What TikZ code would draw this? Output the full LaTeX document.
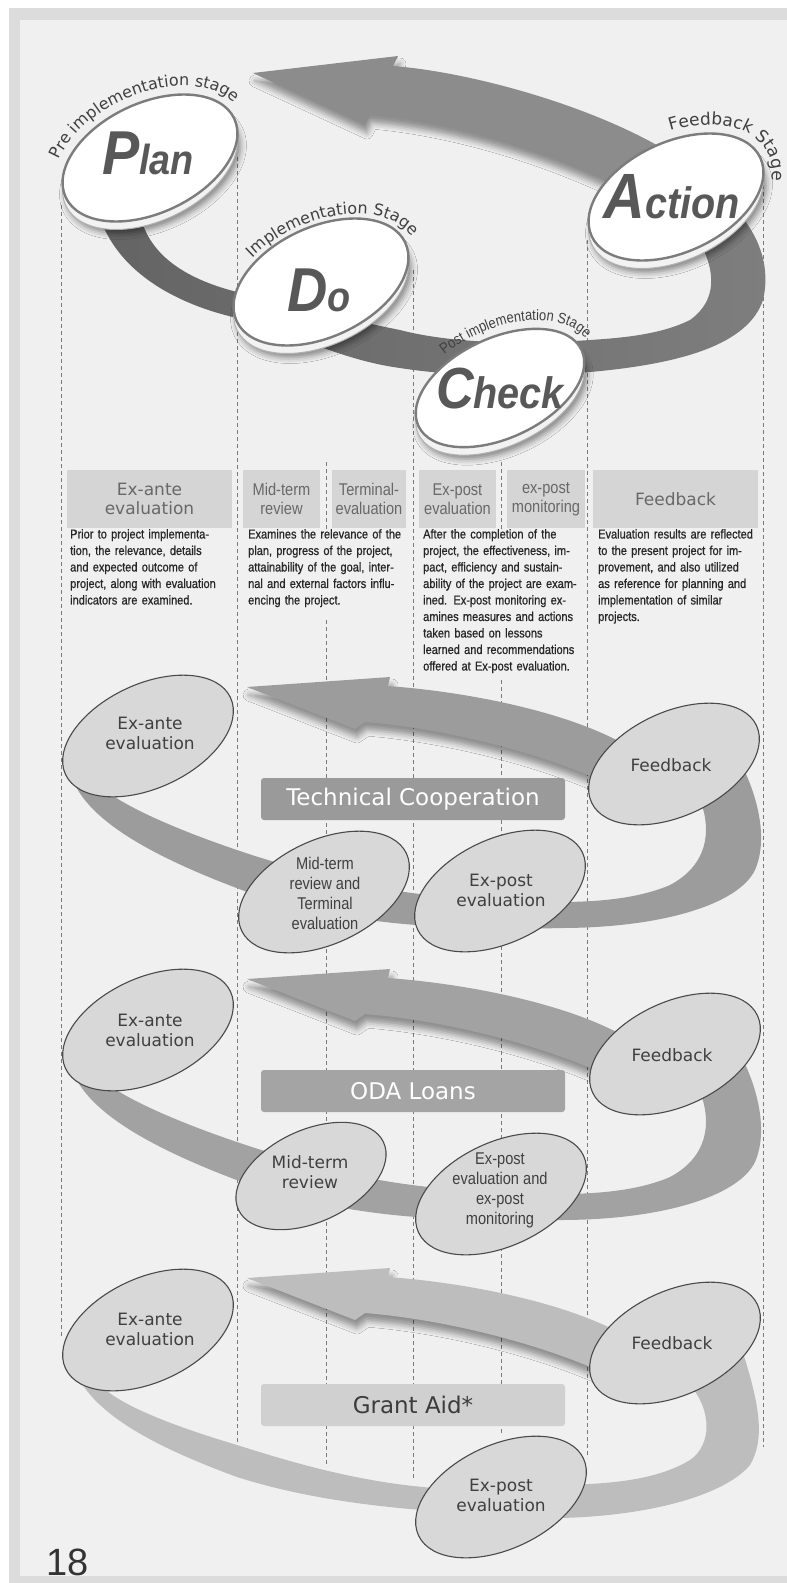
\documentclass[tikz,border=0pt]{standalone}
\usepackage{fontspec}
\setmainfont{Liberation Sans}
\newfontfamily\roundfont{DejaVu Sans}
\newfontfamily\narrowfont[FakeStretch=0.86]{Liberation Sans}
\newfontfamily\descfont[FakeStretch=0.86, FakeBold=0.7]{Liberation Sans}
\newfontfamily\pdcafont[FakeStretch=0.9]{Liberation Sans}
\usetikzlibrary{shapes.geometric,decorations.text,shadows.blur}

\definecolor{framegray}{HTML}{DCDCDC}
\definecolor{panelgray}{HTML}{F0F0F0}
\definecolor{guide}{HTML}{7A7A7A}
\definecolor{headfill}{HTML}{D5D5D5}
\definecolor{headtext}{HTML}{686868}
\definecolor{ringdark}{HTML}{646464}
\definecolor{ringlight}{HTML}{7E7E7E}
\definecolor{pdcaarrow}{HTML}{8C8C8C}
\definecolor{coinedge}{HTML}{7C7C7C}
\definecolor{lettergray}{HTML}{585858}
\definecolor{phasefill}{HTML}{D8D8D8}
\definecolor{phaseedge}{HTML}{4A4A4A}
\definecolor{phasetext}{HTML}{404040}
\definecolor{tcloop}{HTML}{9C9C9C}
\definecolor{odaloop}{HTML}{A2A2A2}
\definecolor{galoop}{HTML}{BDBDBD}
\definecolor{tcbox}{HTML}{9A9A9A}
\definecolor{odabox}{HTML}{A4A4A4}
\definecolor{gabox}{HTML}{D0D0D0}
\definecolor{gatext}{HTML}{3C3C3C}

% one justified line of a description column
\newcommand\fullline[1]{\makebox[\hsize][s]{#1}\\}

\tikzset{
  guideline/.style={draw=guide, dash pattern=on 4pt off 3pt, line width=0.7pt},
  headbox/.style={fill=headfill, minimum height=58pt, inner sep=0pt, text=headtext, align=center},
  desc/.style={anchor=north west, inner sep=0pt, align=left, text=black!85, font=\descfont\fontsize{12.8}{16.5}\selectfont},
  coin/.style={ellipse, minimum width=186pt, minimum height=110pt, inner sep=0pt, rotate=25,
    fill=white, draw=coinedge, line width=2.4pt},
  coinrim/.style={coin, fill=white!90!gray, draw=gray!60, line width=1pt,
    blur shadow={shadow xshift=3pt, shadow yshift=-4pt, shadow opacity=45, shadow blur radius=6pt}},
  pdca/.style={font=\pdcafont\bfseries\itshape, text=lettergray, inner sep=0pt},
  stagetext/.style={decorate, decoration={text along path, text align=center, text color=phasetext, text={#1}}},
  phase/.style={ellipse, minimum width=182pt, minimum height=104pt, inner sep=0pt, rotate=25,
    fill=phasefill, draw=phaseedge, line width=1.1pt},
  phasetxt/.style={align=center, text=phasetext, inner sep=0pt, font=\roundfont\fontsize{17}{20}\selectfont},
  phasenarrow/.style={phasetxt, font=\narrowfont\fontsize{17}{20}\selectfont},
  namebox/.style={rounded corners=3pt, minimum width=304pt, minimum height=42pt, inner sep=0pt,
    font=\roundfont\fontsize{23}{23}\selectfont},
  arrowshadow/.style={blur shadow={shadow xshift=2pt, shadow yshift=-8pt, shadow opacity=40, shadow blur radius=6pt}}
}

\begin{document}
\begin{tikzpicture}[x=1pt, y=-1pt]
\useasboundingbox (0,0) rectangle (787,1583);
% page and panel
\fill[white] (0,0) rectangle (787,1583);
\fill[framegray] (9,8) rectangle (787,1583);
\fill[panelgray] (20,20) rectangle (787,1576);

% column guides
\foreach \x/\ya/\yb in {61/205/1337, 237/157/1443, 326/462/532, 326/620/1467, 413/270/1480,
    501/462/532, 501/680/1435, 587/240/1458, 763/185/1447}
  \draw[guideline] (\x,\ya) -- (\x,\yb);

% column heads
\node[headbox, minimum width=165pt, font=\roundfont\fontsize{17}{19}\selectfont] (hante) at (149.5,499) {Ex-ante\\evaluation};
\node[headbox, minimum width=77pt, font=\narrowfont\fontsize{17}{19}\selectfont] (hmid) at (281.5,499) {Mid-term\\review};
\node[headbox, minimum width=74pt, font=\narrowfont\fontsize{17}{19}\selectfont] (hterm) at (369,499) {Terminal-\\evaluation};
\node[headbox, minimum width=77pt, font=\narrowfont\fontsize{17}{19}\selectfont] (hpost) at (457.5,499) {Ex-post\\evaluation};
\node[headbox, minimum width=78pt, font=\narrowfont\fontsize{17}{19}\selectfont] (hmon) at (546,499) {ex-post\\monitoring};
\node[headbox, minimum width=165pt, font=\roundfont\fontsize{17}{19}\selectfont] (hfb) at (675.5,499) {Feedback};

% column texts
\node[desc, text width=153pt] (antedesc) at (70,529) {%
  \fullline{Prior to project implementa-}
  \fullline{tion, the relevance, details}
  \fullline{and expected outcome of}
  \fullline{project, along with evaluation}
  indicators are examined.};
\node[desc, text width=157pt] (middesc) at (248,529) {%
  \fullline{Examines the relevance of the}
  \fullline{plan, progress of the project,}
  \fullline{attainability of the goal, inter-}
  \fullline{nal and external factors influ-}
  encing the project.};
\node[desc, text width=155pt] (postdesc) at (423,529) {%
  \fullline{After the completion of the}
  \fullline{project, the effectiveness, im-}
  \fullline{pact, efficiency and sustain-}
  \fullline{ability of the project are exam-}
  \fullline{ined. Ex-post monitoring ex-}
  \fullline{amines measures and actions}
  \fullline{taken based on lessons}
  \fullline{learned and recommendations}
  offered at Ex-post evaluation.};
\node[desc, text width=154pt] (fbdesc) at (598,529) {%
  \fullline{Evaluation results are reflected}
  \fullline{to the present project for im-}
  \fullline{provement, and also utilized}
  \fullline{as reference for planning and}
  \fullline{implementation of similar}
  projects.};

% PDCA band
\shade[left color=ringdark, right color=ringlight]
  (100,218) .. controls (120,275) and (180,305) .. (237,318)
  .. controls (290,332) and (340,360) .. (400,368)
  .. controls (450,376) and (520,378) .. (590,372)
  .. controls (680,364) and (748,345) .. (763,300)
  .. controls (770,270) and (762,240) .. (738,212)
  -- (700,243)
  .. controls (715,270) and (718,300) .. (690,320)
  .. controls (660,335) and (620,338) .. (590,340)
  .. controls (520,345) and (450,343) .. (400,330)
  .. controls (340,318) and (290,305) .. (237,292)
  .. controls (190,280) and (150,258) .. (140,215) -- cycle;
\fill[pdcaarrow, arrowshadow] (253,73) -- (398,56) -- (393,66)
  .. controls (470,72) and (590,105) .. (665,150) -- (625,190)
  .. controls (545,150) and (450,122) .. (370,115) -- (365,125) -- cycle;

% PDCA coins
\node[coinrim] (planrim) at (150,166) {};
\node[coin] (plan) at (150,158) {};
\node[pdca] (plantxt) at (148,153) {\fontsize{62}{62}\selectfont P\fontsize{42}{42}\selectfont lan};
\path[stagetext={|\roundfont\fontsize{16}{16}\selectfont|Pre implementation stage}]
  plot[domain=195:370, samples=50] ({150+102*cos(\x)*cos(25)+64*sin(\x)*sin(25)}, {158-102*cos(\x)*sin(25)+64*sin(\x)*cos(25)});

\node[coinrim] (dorim) at (321,290) {};
\node[coin] (do) at (321,282) {};
\node[pdca] (dotxt) at (319,290) {\fontsize{62}{62}\selectfont D\fontsize{42}{42}\selectfont o};
\path[stagetext={|\roundfont\fontsize{16}{16}\selectfont|Implementation Stage}]
  plot[domain=216:384, samples=50] ({323+102*cos(\x)*cos(25)+64*sin(\x)*sin(25)}, {286-102*cos(\x)*sin(25)+64*sin(\x)*cos(25)});

\node[coinrim, minimum width=180pt, minimum height=100pt] (checkrim) at (500,396) {};
\node[coin, minimum width=180pt, minimum height=100pt] (check) at (500,388) {};
\node[pdca] (checktxt) at (500,389) {\fontsize{58}{58}\selectfont C\fontsize{44}{44}\selectfont heck};
\path[stagetext={|\narrowfont\fontsize{15}{15}\selectfont|Post implementation Stage}]
  plot[domain=230:376, samples=50] ({502+98*cos(\x)*cos(25)+59*sin(\x)*sin(25)}, {388-98*cos(\x)*sin(25)+59*sin(\x)*cos(25)});

\node[coinrim] (actionrim) at (676,205) {};
\node[coin] (action) at (676,197) {};
\node[pdca] (actiontxt) at (672,197) {\fontsize{64}{64}\selectfont A\fontsize{44}{44}\selectfont ction};
\path[stagetext={|\roundfont\fontsize{17}{17}\selectfont|Feedback Stage}]
  plot[domain=262:410, samples=50] ({676+102*cos(\x)*cos(25)+64*sin(\x)*sin(25)}, {197-102*cos(\x)*sin(25)+64*sin(\x)*cos(25)});

% loops of the three schemes
\foreach \dy/\tone in {0/tcloop, 292/odaloop}{
  \begin{scope}[shift={(0,\dy)}]
    \fill[\tone] (70,770) .. controls (80,820) and (160,860) .. (250,893)
      .. controls (320,915) and (380,924) .. (450,927)
      .. controls (500,929) and (530,929) .. (560,928)
      .. controls (660,928) and (738,905) .. (755,870)
      .. controls (768,840) and (758,800) .. (745,772)
      -- (700,800)
      .. controls (712,830) and (708,865) .. (670,885)
      .. controls (640,898) and (600,902) .. (560,902)
      .. controls (500,902) and (450,898) .. (412,893)
      .. controls (350,885) and (300,870) .. (255,856)
      .. controls (190,835) and (130,810) .. (105,790) -- cycle;
  \end{scope}
}
\fill[galoop] (72,1362) .. controls (85,1410) and (150,1445) .. (237,1477)
  .. controls (300,1497) and (370,1507) .. (450,1512)
  .. controls (500,1516) and (530,1518) .. (560,1518)
  .. controls (650,1516) and (725,1495) .. (750,1465)
  .. controls (765,1440) and (760,1405) .. (742,1350)
  -- (690,1385)
  .. controls (712,1410) and (712,1445) .. (690,1460)
  .. controls (660,1478) and (620,1484) .. (560,1485)
  .. controls (520,1486) and (480,1488) .. (450,1489)
  .. controls (370,1485) and (300,1465) .. (237,1445)
  .. controls (170,1425) and (120,1405) .. (100,1385) -- cycle;
\foreach \dy/\tone in {0/tcloop, 292/odaloop, 591/galoop}{
  \begin{scope}[shift={(0,\dy)}]
    \fill[\tone, arrowshadow] (247,687) -- (390,677) -- (388,686)
      .. controls (470,692) and (565,712) .. (620,742) -- (595,778)
      .. controls (530,750) and (440,728) .. (365,722) -- (355,729) -- cycle;
  \end{scope}
}

% Technical Cooperation
\node[phase] (tcante) at (148,736) {};
\node[phasetxt] (tcantetxt) at (150,733) {Ex-ante\\evaluation};
\node[phase] (tcfb) at (674,764) {};
\node[phasetxt] (tcfbtxt) at (671,765) {Feedback};
\node[phase] (tcmid) at (324,892) {};
\node[phasenarrow] (tcmidtxt) at (325,893) {Mid-term\\review and\\Terminal\\evaluation};
\node[phase] (tcpost) at (500,891) {};
\node[phasetxt] (tcposttxt) at (501,890) {Ex-post\\evaluation};
\node[namebox, fill=tcbox, text=white] (tcname) at (413,799) {Technical Cooperation};

% ODA Loans
\node[phase] (odaante) at (148,1030) {};
\node[phasetxt] (odaantetxt) at (150,1030) {Ex-ante\\evaluation};
\node[phase] (odafb) at (675,1054) {};
\node[phasetxt] (odafbtxt) at (672,1055) {Feedback};
\node[phase, minimum width=160pt, minimum height=92pt] (odamid) at (311,1176) {};
\node[phasetxt] (odamidtxt) at (310,1172) {Mid-term\\review};
\node[phase] (odapost) at (501,1194) {};
\node[phasenarrow] (odaposttxt) at (500,1190) {Ex-post\\evaluation and\\ex-post\\monitoring};
\node[namebox, fill=odabox, text=white] (odaname) at (413,1091) {ODA Loans};

% Grant Aid
\node[phase] (gaante) at (148,1330) {};
\node[phasetxt] (gaantetxt) at (150,1329) {Ex-ante\\evaluation};
\node[phase] (gafb) at (675,1343) {};
\node[phasetxt] (gafbtxt) at (672,1343) {Feedback};
\node[phase] (gapost) at (501,1497) {};
\node[phasetxt] (gaposttxt) at (501,1495) {Ex-post\\evaluation};
\node[namebox, fill=gabox, text=gatext] (ganame) at (413,1405) {Grant Aid*};

% folio
\node[text=gray!40!black, font=\fontsize{38}{38}\selectfont, inner sep=0pt] (folio) at (68,1562) {18};
\end{tikzpicture}
\end{document}
